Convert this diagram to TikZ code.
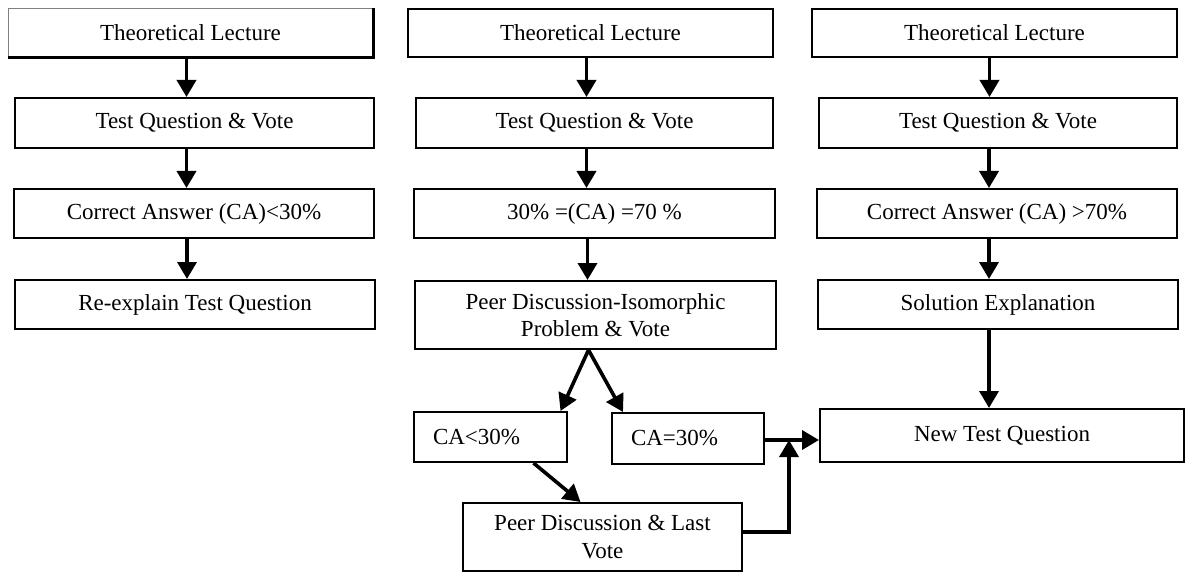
\documentclass[tikz,border=0pt]{standalone}
\usepackage{fontspec}
\setmainfont{Liberation Serif}
\usetikzlibrary{arrows.meta, calc}

\begin{document}
\begin{tikzpicture}[x=1pt, y=-1pt,
  box/.style={draw, line width=2pt, fill=white, inner sep=0pt, align=center,
    font=\fontsize{23}{27.5}\selectfont},
  flow/.style={line width=3.6pt, -{Triangle[width=19pt,length=17pt]}}]
\useasboundingbox (0,0) rectangle (1188,572);

% Column 1: CA below 30%
\node[box, draw=gray, line width=1pt, minimum width=365, minimum height=48] (tlA) at (190.5,33) {Theoretical Lecture};
\draw[line width=2.6pt] (tlA.south west) -- (tlA.south east) -- (tlA.north east);
\node[box, minimum width=359, minimum height=50] (tqA) at (194.5,123) {Test Question \& Vote};
\node[box, minimum width=360, minimum height=49] (caA) at (194,213.5) {Correct Answer (CA)<30\%};
\node[box, minimum width=360, minimum height=49] (reA) at (195,304.5) {Re-explain Test Question};

% Column 2: CA between 30% and 70%
\node[box, minimum width=365, minimum height=48] (tlB) at (590.5,33) {Theoretical Lecture};
\node[box, minimum width=357, minimum height=50] (tqB) at (594.5,123) {Test Question \& Vote};
\node[box, minimum width=361, minimum height=49] (caB) at (594.5,213.5) {30\% =(CA) =70 \%};
\node[box, minimum width=361, minimum height=68] (pdB) at (595.5,315) {Peer Discussion-Isomorphic\\Problem \& Vote};
\node[box, minimum width=153, minimum height=50, text width=115, align=left] (loB) at (490.5,437) {CA<30\%};
\node[box, minimum width=152, minimum height=51, text width=114, align=left] (eqB) at (688,438.5) {CA=30\%};
\node[box, minimum width=279, minimum height=68] (lvB) at (602.5,537) {Peer Discussion \& Last\\Vote};

% Column 3: CA above 70%
\node[box, minimum width=365, minimum height=48] (tlC) at (994.5,33) {Theoretical Lecture};
\node[box, minimum width=358, minimum height=50] (tqC) at (998,123) {Test Question \& Vote};
\node[box, minimum width=360, minimum height=49] (caC) at (997,213.5) {Correct Answer (CA) >70\%};
\node[box, minimum width=360, minimum height=49] (seC) at (998,304.5) {Solution Explanation};
\node[box, minimum width=364, minimum height=53] (ntC) at (1002,435.5) {New Test Question};

% Arrows column 1
\draw[flow] ([xshift=-4]tlA.south) -- ([xshift=-4]tlA.south |- tqA.north);
\draw[flow] ([xshift=-8]tqA.south) -- ([xshift=-8]tqA.south |- caA.north);
\draw[flow] ([xshift=-7]caA.south) -- ([xshift=-7]caA.south |- reA.north);

% Arrows column 2
\draw[flow] ([xshift=-4]tlB.south) -- ([xshift=-4]tlB.south |- tqB.north);
\draw[flow] ([xshift=-8]tqB.south) -- ([xshift=-8]tqB.south |- caB.north);
\draw[flow] ([xshift=-7]caB.south) -- ([xshift=-7]caB.south |- pdB.north);
\draw[flow] ([xshift=-7]pdB.south) -- ($(loB.north)+(70,0)$);
\draw[flow] ([xshift=-7]pdB.south) -- ($(eqB.north)+(-65,0)$);
\draw[flow] ($(loB.south)+(43,0)$) -- ($(lvB.north)+(-22,0)$);

% Arrows column 3
\draw[flow] ([xshift=-5]tlC.south) -- ([xshift=-5]tlC.south |- tqC.north);
\draw[flow] ([xshift=-9]tqC.south) -- ([xshift=-9]tqC.south |- caC.north);
\draw[flow] ([xshift=-8]caC.south) -- ([xshift=-8]caC.south |- seC.north);
\draw[flow] ([xshift=-9]seC.south) -- ([xshift=-9]seC.south |- ntC.north);

% Merge into new test question
\coordinate (join) at (789,440);
\draw[flow] (eqB.east |- join) -- (ntC.west |- join);
\draw[flow] ([yshift=5]lvB.east) -| (join);
\end{tikzpicture}
\end{document}
